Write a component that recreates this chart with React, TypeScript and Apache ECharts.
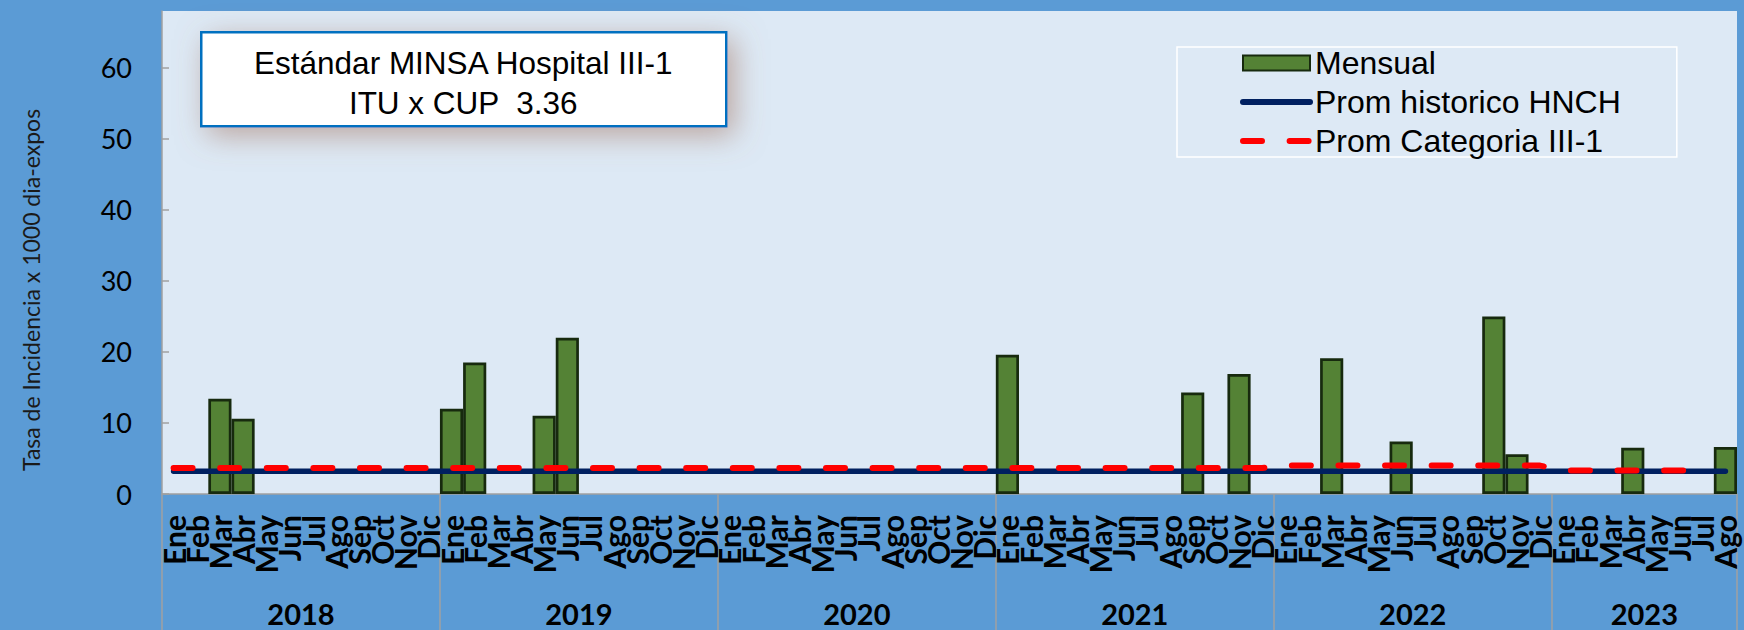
import React, { useEffect, useRef } from "react";
import * as echarts from "echarts";

// ---- data ----
const monthNames = ["Ene", "Feb", "Mar", "Abr", "May", "Jun", "Jul", "Ago", "Sep", "Oct", "Nov", "Dic"];
const years = ["2018", "2019", "2020", "2021", "2022", "2023"];
const monthsPerYear = [12, 12, 12, 12, 12, 8];

const mensual2018 = [null, null, 13.4, 10.6, null, null, null, null, null, null, null, null];
const mensual2019 = [12.0, 18.5, null, null, 11.0, 22.0, null, null, null, null, null, null];
const mensual2020 = [null, null, null, null, null, null, null, null, null, null, null, null];
const mensual2021 = [19.6, null, null, null, null, null, null, null, 14.3, null, 16.9, null];
const mensual2022 = [null, null, 19.1, null, null, 7.4, null, null, null, 25.0, 5.6, null];
const mensual2023 = [null, null, null, 6.5, null, null, null, 6.6];

const promHistorico2018 = [3.2, 3.2, 3.2, 3.2, 3.2, 3.2, 3.2, 3.2, 3.2, 3.2, 3.2, 3.2];
const promHistorico2019 = [3.2, 3.2, 3.2, 3.2, 3.2, 3.2, 3.2, 3.2, 3.2, 3.2, 3.2, 3.2];
const promHistorico2020 = [3.2, 3.2, 3.2, 3.2, 3.2, 3.2, 3.2, 3.2, 3.2, 3.2, 3.2, 3.2];
const promHistorico2021 = [3.2, 3.2, 3.2, 3.2, 3.2, 3.2, 3.2, 3.2, 3.2, 3.2, 3.2, 3.2];
const promHistorico2022 = [3.2, 3.2, 3.2, 3.2, 3.2, 3.2, 3.2, 3.2, 3.2, 3.2, 3.2, 3.2];
const promHistorico2023 = [3.2, 3.2, 3.2, 3.2, 3.2, 3.2, 3.2, 3.2];

const promCategoria2018 = [3.65, 3.65, 3.65, 3.65, 3.65, 3.65, 3.65, 3.65, 3.65, 3.65, 3.65, 3.65];
const promCategoria2019 = [3.65, 3.65, 3.65, 3.65, 3.65, 3.65, 3.65, 3.65, 3.65, 3.65, 3.65, 3.65];
const promCategoria2020 = [3.65, 3.65, 3.65, 3.65, 3.65, 3.65, 3.65, 3.65, 3.65, 3.65, 3.65, 3.65];
const promCategoria2021 = [3.65, 3.65, 3.65, 3.65, 3.65, 3.65, 3.65, 3.65, 3.65, 3.65, 3.65, 3.65];
const promCategoria2022 = [4.0, 4.0, 4.0, 4.0, 4.0, 4.0, 4.0, 4.0, 4.0, 4.0, 4.0, 4.0];
const promCategoria2023 = [3.3, 3.3, 3.3, 3.3, 3.3, 3.3, 3.3, null];

const yTicks = [0, 10, 20, 30, 40, 50, 60];
const seriesNames = ["Mensual", "Prom historico HNCH", "Prom Categoria III-1"];
const standardLines = ["Estándar MINSA Hospital III-1", "ITU x CUP  3.36"];
const yAxisTitle = "Tasa de Incidencia x 1000 dia-expos";

// ---- derived ----
const categories: string[] = [];
monthsPerYear.forEach((n) => {
  for (let i = 0; i < n; i++) categories.push(monthNames[i]);
});
const mensual = [...mensual2018, ...mensual2019, ...mensual2020, ...mensual2021, ...mensual2022, ...mensual2023];
const promHistorico = [
  ...promHistorico2018, ...promHistorico2019, ...promHistorico2020,
  ...promHistorico2021, ...promHistorico2022, ...promHistorico2023,
];
const promCategoria = [
  ...promCategoria2018, ...promCategoria2019, ...promCategoria2020,
  ...promCategoria2021, ...promCategoria2022, ...promCategoria2023,
];
const yearBounds: number[] = [0];
monthsPerYear.forEach((n) => yearBounds.push(yearBounds[yearBounds.length - 1] + n));
const yearCenters = years.map((_, i) => (yearBounds[i] + yearBounds[i + 1]) / 2);
const totalMonths = yearBounds[yearBounds.length - 1];

const redDash = [19, 27.6];

export default function App() {
  const ref = useRef<HTMLDivElement>(null);
  useEffect(() => {
    if (!ref.current) return;
    const chart = echarts.init(ref.current, null, { renderer: "svg" });
    const grey = "#a0a0a0";
    chart.setOption({
      animation: false,
      backgroundColor: "#5b9bd5",
      grid: {
        show: true,
        left: 162,
        top: 11,
        right: 7,
        bottom: 136,
        backgroundColor: "#dde9f5",
        borderWidth: 0,
        containLabel: false,
      },
      xAxis: [
        {
          type: "category",
          data: categories,
          position: "bottom",
          boundaryGap: true,
          axisLine: { show: true, onZero: false, lineStyle: { color: grey, width: 1.5 } },
          axisTick: { show: false },
          axisLabel: {
            interval: 0,
            rotate: 90,
            margin: 21,
            fontFamily: "Lato",
            fontWeight: "bold",
            fontSize: 30,
            color: "#000",
          },
          splitLine: { show: false },
        },
        {
          type: "value",
          min: 0,
          max: totalMonths,
          position: "bottom",
          axisLine: { show: false, onZero: false },
          axisTick: {
            show: true,
            customValues: yearBounds,
            length: 136,
            lineStyle: { color: grey, width: 1.5 },
          },
          axisLabel: {
            customValues: yearCenters,
            formatter: (v: number) => {
              const idx = yearCenters.findIndex((c) => Math.abs(c - v) < 1e-6);
              return idx >= 0 ? years[idx] : "";
            },
            margin: 119,
            verticalAlign: "middle",
            lineHeight: 26,
            fontFamily: "Lato",
            fontWeight: "bold",
            fontSize: 29,
            color: "#000",
          },
          splitLine: { show: false },
        },
      ],
      yAxis: {
        type: "value",
        min: 0,
        max: 68,
        interval: 10,
        axisLine: { show: true, onZero: false, lineStyle: { color: grey, width: 1.5 } },
        axisTick: { show: true, inside: true, length: 7, customValues: yTicks, lineStyle: { color: grey, width: 1.5 } },
        axisLabel: {
          customValues: yTicks,
          margin: 30,
          fontFamily: "Lato",
          fontSize: 27,
          color: "#000",
        },
        splitLine: { show: false },
      },
      legend: {
        orient: "vertical",
        left: 1177,
        top: 47,
        padding: [0, 56, 0, 63],
        itemWidth: 67,
        itemHeight: 15,
        itemGap: 7,
        borderColor: "#ffffff",
        borderWidth: 1.5,
        textStyle: { fontFamily: "Liberation Sans", fontSize: 32, color: "#000", lineHeight: 30 },
        data: [
          { name: seriesNames[0], icon: "rect" },
          {
            name: seriesNames[1],
            itemStyle: { opacity: 0 },
            lineStyle: { width: 6, color: "#002060", cap: "round" },
          },
          {
            name: seriesNames[2],
            itemStyle: { opacity: 0 },
            lineStyle: { width: 6, color: "#ff0000", cap: "round", type: redDash },
          },
        ],
      },
      series: [
        {
          name: seriesNames[0],
          type: "bar",
          xAxisIndex: 0,
          data: mensual,
          barCategoryGap: "0%",
          itemStyle: { color: "#548235", borderColor: "#172a0e", borderWidth: 2.7 },
        },
        {
          name: seriesNames[1],
          type: "line",
          xAxisIndex: 0,
          data: promHistorico,
          symbol: "none",
          lineStyle: { color: "#002060", width: 5.5, cap: "round" },
          itemStyle: { color: "#002060" },
        },
        {
          name: seriesNames[2],
          type: "line",
          xAxisIndex: 0,
          data: promCategoria,
          symbol: "none",
          lineStyle: { color: "#ff0000", width: 6, cap: "round", type: redDash },
          itemStyle: { color: "#ff0000" },
        },
      ],
      graphic: [
        {
          type: "group",
          left: 200,
          top: 31,
          children: [
            {
              type: "rect",
              shape: { x: 0, y: 0, width: 525, height: 94 },
              style: {
                fill: "#ffffff",
                stroke: "#0070c0",
                lineWidth: 2.5,
                shadowBlur: 30,
                shadowColor: "rgba(160,110,90,0.55)",
                shadowOffsetX: 7,
                shadowOffsetY: 8,
              },
            },
            {
              type: "text",
              x: 262,
              y: 31,
              style: {
                text: standardLines[0],
                align: "center",
                verticalAlign: "middle",
                fontFamily: "Liberation Sans",
                fontSize: 31.5,
                fill: "#000",
              },
            },
            {
              type: "text",
              x: 262,
              y: 71,
              style: {
                text: standardLines[1],
                align: "center",
                verticalAlign: "middle",
                fontFamily: "Liberation Sans",
                fontSize: 31.5,
                fill: "#000",
              },
            },
          ],
        },
        {
          type: "text",
          x: 31,
          y: 290,
          rotation: Math.PI / 2,
          style: {
            text: yAxisTitle,
            align: "center",
            verticalAlign: "middle",
            fontFamily: "Lato",
            fontSize: 23,
            fill: "#1a1a1a",
          },
        },
      ],
    });
    return () => chart.dispose();
  }, []);
  return <div ref={ref} style={{ position: "fixed", left: 0, top: 0, width: 1744, height: 630 }} />;
}
